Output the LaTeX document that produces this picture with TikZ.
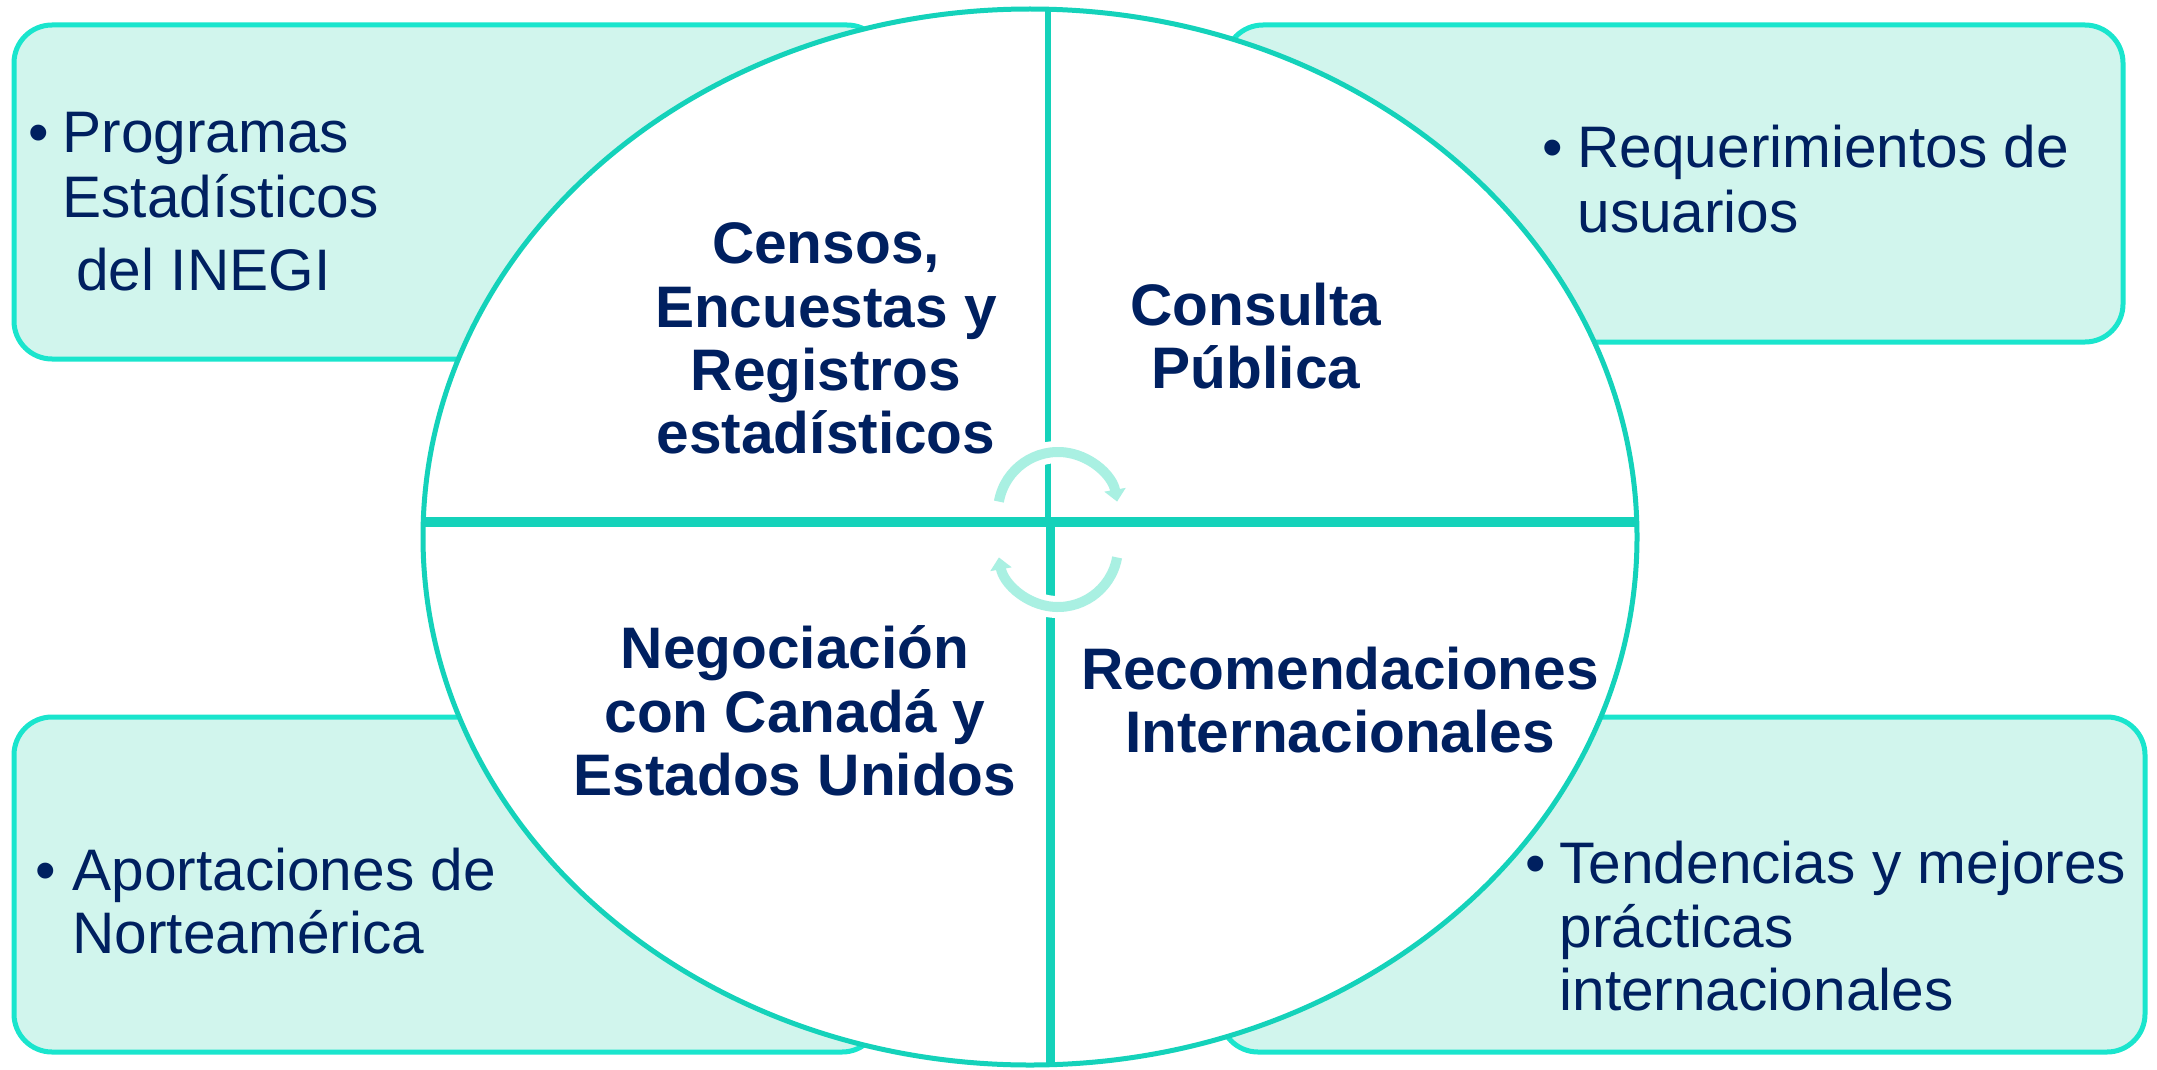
\documentclass[tikz,border=0pt]{standalone}
\usepackage{fontspec}
\setmainfont{Liberation Sans}
\usetikzlibrary{arrows.meta}
\definecolor{boxline}{HTML}{1AE5CD}
\definecolor{ringline}{HTML}{14D2BA}
\definecolor{boxfill}{HTML}{D1F5ED}
\definecolor{arrowcol}{HTML}{A9F0E2}
\definecolor{ink}{HTML}{002060}
\begin{document}
\begin{tikzpicture}[x=0.5pt,y=-0.5pt,
  sidebox/.style={draw=boxline,fill=boxfill,line width=2.5pt,rounded corners=19pt},
  ringtxt/.style={anchor=base,inner sep=0pt,text=ink,font=\fontsize{29.3}{32}\selectfont\bfseries},
  boxtxt/.style={anchor=base west,inner sep=0pt,text=ink,font=\fontsize{29.3}{32}\selectfont},
  cyc/.style={draw=arrowcol,line width=5pt,-{Triangle[width=10.5pt,length=6pt]}},
  halo/.style={draw=white,line width=11pt}]
\path[use as bounding box] (0,0) rectangle (2157,1070);
\fill[white] (0,0) rectangle (2157,1070);

% side boxes
\draw[sidebox] (14,25) rectangle (885,359);
\draw[sidebox] (1225,25) rectangle (2123,342);
\draw[sidebox] (14,717) rectangle (880,1052);
\draw[sidebox] (1220,717) rectangle (2145,1052);

% central ellipse
\fill[white] (1030,537) ellipse [x radius=607, y radius=528];
\begin{scope}
  \clip (1030,537) ellipse [x radius=607, y radius=528];
  \draw[ringline,line width=5pt] (380,522) -- (1700,522);
  \draw[ringline,line width=2.75pt] (1048,0) -- (1048,522);
  \draw[ringline,line width=4.5pt] (1050,522) -- (1050,1070);
\end{scope}
\draw[ringline,line width=2.5pt] (1030,537) ellipse [x radius=607, y radius=528];

% cycle arrows
\draw[halo] (1058,512) ++(190:60) arc[start angle=190,end angle=340,radius=60];
\draw[halo] (1058,547) ++(10:60) arc[start angle=10,end angle=160,radius=60];
\draw[cyc] (1058,512) ++(190:60) arc[start angle=190,end angle=350,radius=60];
\draw[cyc] (1058,547) ++(10:60) arc[start angle=10,end angle=170,radius=60];

% quadrant texts
\node[ringtxt] (q1a) at (826,263) {Censos,};
\node[ringtxt] (q1b) at (826,327) {Encuestas y};
\node[ringtxt] (q1c) at (826,390) {Registros};
\node[ringtxt] (q1d) at (826,453) {estadísticos};

\node[ringtxt] (q2a) at (1256,325) {Consulta};
\node[ringtxt] (q2b) at (1256,388) {Pública};

\node[ringtxt] (q3a) at (795,668) {Negociación};
\node[ringtxt] (q3b) at (795,732) {con Canadá y};
\node[ringtxt] (q3c) at (795,795) {Estados Unidos};

\node[ringtxt] (q4a) at (1340,689) {Recomendaciones};
\node[ringtxt] (q4b) at (1340,752) {Internacionales};

% box texts
\node[boxtxt] (b1dot) at (28,153) {•};
\node[boxtxt] (b1a) at (62,153) {Programas};
\node[boxtxt] (b1b) at (62,217) {Estadísticos};
\node[boxtxt] (b1c) at (76,290) {del INEGI};

\node[boxtxt] (b2dot) at (1542,168) {•};
\node[boxtxt] (b2a) at (1577,168) {Requerimientos de};
\node[boxtxt] (b2b) at (1577,232) {usuarios};

\node[boxtxt] (b3dot) at (35,890) {•};
\node[boxtxt] (b3a) at (72,890) {Aportaciones de};
\node[boxtxt] (b3b) at (72,953) {Norteamérica};

\node[boxtxt] (b4dot) at (1525,883) {•};
\node[boxtxt] (b4a) at (1559,883) {Tendencias y mejores};
\node[boxtxt] (b4b) at (1559,947) {prácticas};
\node[boxtxt] (b4c) at (1559,1010) {internacionales};
\end{tikzpicture}
\end{document}
